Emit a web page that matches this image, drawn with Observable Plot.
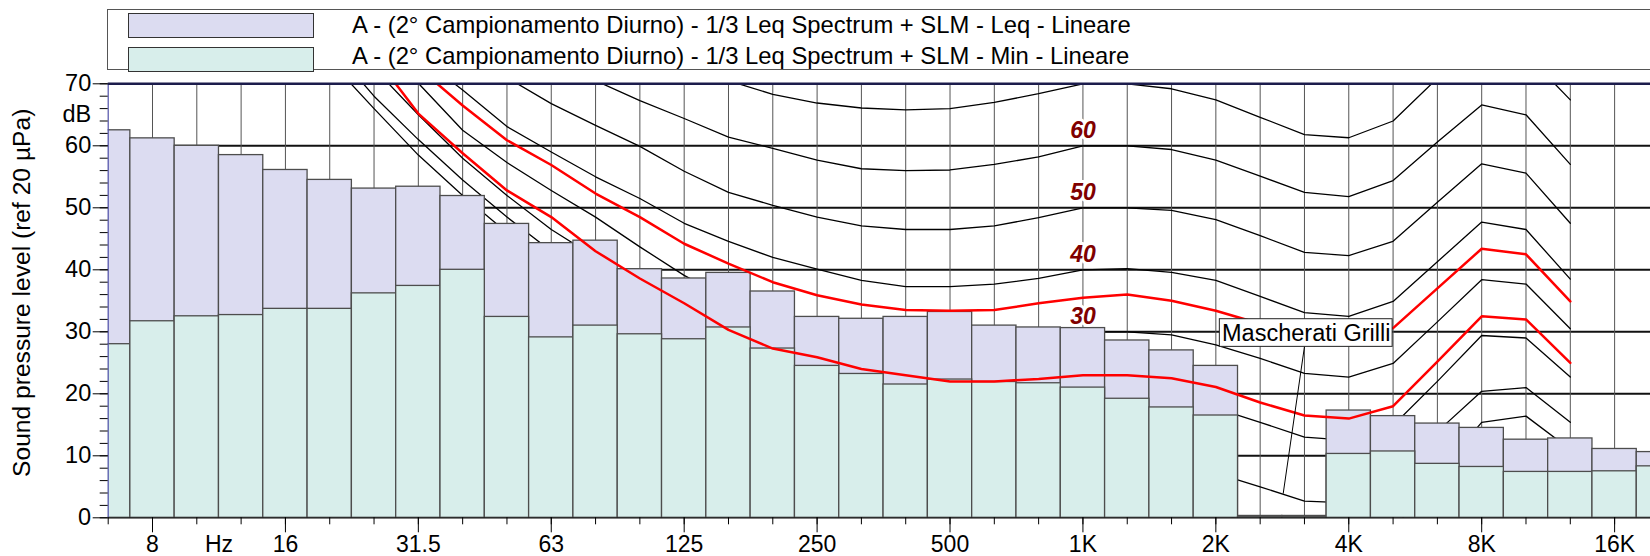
<!DOCTYPE html>
<html>
<head>
<meta charset="utf-8">
<script src="https://cdn.jsdelivr.net/npm/d3@7"></script>
<script src="https://cdn.jsdelivr.net/npm/@observablehq/plot@0.6"></script>
<style>
  body { margin: 0; background: #fff; }
  #wrap { position: relative; width: 1650px; height: 556px; overflow: hidden; font-family: Arial, "Liberation Sans", sans-serif; }
  #legend { position: absolute; left: 107px; top: 9px; width: 1600px; height: 61px; border: 1px solid #555; box-sizing: border-box; background: #fff; }
  .sw { position: absolute; left: 20px; width: 186px; height: 25px; border: 1px solid #333; box-sizing: border-box; }
  .lt { position: absolute; left: 244px; font-size: 23.8px; line-height: 1; color: #000; white-space: nowrap; }
</style>
</head>
<body>
<div id="wrap">
  <div id="chart"></div>
  <div id="legend">
    <div class="sw" id="sw1" style="top:3px"></div>
    <div class="lt" id="lt1" style="top:3px"></div>
    <div class="sw" id="sw2" style="top:37px"></div>
    <div class="lt" id="lt2" style="top:34px"></div>
  </div>
</div>
<script>
// ---- data ----
const bandLabels = ["6.3","8","10","12.5","16","20","25","31.5","40","50","63","80","100","125","160","200","250","315","400","500","630","800","1K","1.25K","1.6K","2K","2.5K","3.15K","4K","5K","6.3K","8K","10K","12.5K","16K","20K"];
const leqValues = [62.5,61.2,60.0,58.5,56.1,54.5,53.1,53.4,51.9,47.4,44.3,44.7,40.1,38.6,39.5,36.5,32.4,32.1,32.4,33.2,31.0,30.7,30.6,28.6,27.0,24.5,0.3,0.3,17.3,16.4,15.2,14.5,12.6,12.8,11.1,10.6];
const minValues = [28.0,31.7,32.5,32.7,33.7,33.7,36.2,37.4,40.0,32.4,29.1,31.0,29.6,28.8,30.7,27.3,24.5,23.2,21.5,22.3,21.9,21.7,21.0,19.2,17.8,16.5,0.1,0.1,10.3,10.7,8.7,8.2,7.4,7.4,7.5,8.3];
const seriesNames = [
  "A - (2° Campionamento Diurno) - 1/3 Leq Spectrum + SLM - Leq - Lineare",
  "A - (2° Campionamento Diurno) - 1/3 Leq Spectrum + SLM - Min - Lineare"
];
const tickBands = ["8","16","31.5","63","125","250","500","1K","2K","4K","8K","16K"];
const unitLabel = "Hz";
const yTitle = "Sound pressure level (ref 20 µPa)";

// contour curves, values at bands 20 Hz (index 4) ... 12.5 kHz (index 32)
const contourStart = 4;
const c70 = [null,null,null,null,null,null,null,null,null,70.5,68.3,66.9,66.1,65.8,66.0,67.0,68.4,70.0,70.0,69.2,67.4,64.6,61.8,61.3,64.0,70.9,76.4,74.8,67.4];
const c60 = [null,null,null,null,null,null,70.5,67.3,64.4,61.4,59.6,57.7,56.3,56.0,56.1,57.0,58.2,60.0,60.0,59.4,57.7,55.1,52.5,51.8,54.4,60.6,66.6,65.0,57.0];
const c50 = [null,null,null,null,71.0,66.8,63.3,59.9,55.9,52.5,50.4,48.5,47.1,46.5,46.5,47.1,48.4,50.0,50.0,49.6,48.1,45.5,42.8,42.3,44.6,50.9,57.1,55.6,47.5];
const c40 = [null,null,74.5,69.0,63.1,59.0,55.0,51.5,47.5,44.6,42.0,40.1,38.3,37.3,37.3,37.7,38.6,40.0,40.2,39.6,38.3,35.7,33.1,32.5,34.9,41.3,47.7,46.5,38.5];
const c30 = [null,77.0,70.1,62.5,57.3,52.8,48.5,43.7,39.1,35.2,32.7,30.6,28.7,27.6,27.4,27.8,28.7,30.0,30.0,29.5,27.9,25.7,23.3,22.7,24.9,31.6,38.4,37.7,30.5];
const c20 = [null,72.5,65.0,58.0,52.0,46.5,42.0,37.5,33.5,29.8,26.5,23.8,21.7,20.3,19.7,19.5,19.6,20.0,20.0,19.5,17.7,15.4,13.0,12.5,14.9,22.0,29.4,29.0,22.7];
const c10 = [76.3,68.0,61.0,54.5,48.5,43.0,38.0,33.0,28.5,24.5,20.8,17.5,14.8,12.6,11.0,10.0,9.6,10.0,10.0,9.5,7.2,5.0,2.7,2.4,5.0,13.9,20.4,21.0,15.4];
const cThreshold = [73.7,66.0,58.5,52.0,46.0,40.5,35.5,30.5,26.0,22.0,18.5,15.5,12.5,10.0,8.0,6.5,5.5,4.5,4.0,3.0,1.0,-1.5,-4.0,-4.5,-2.0,7.0,15.4,16.4,11.0];
const redLeq = [null,null,72.6,66.5,60.9,56.9,52.3,48.5,44.2,41.0,38.0,35.9,34.4,33.5,33.4,33.5,34.6,35.5,36.0,35.0,33.4,31.3,29.0,28.5,30.6,37.0,43.4,42.5,34.9];
const redMin = [null,74.6,65.2,58.8,52.8,48.5,43.0,38.6,34.6,30.3,27.3,25.9,24.0,23.0,22.0,22.0,22.4,23.0,23.0,22.5,21.1,18.6,16.5,16.0,18.0,25.2,32.5,32.0,25.0];
const contourLabels = [60, 50, 40, 30];
const contourLabelBand = "1K";
const noteText = "Mascherati Grilli";
const noteBandPos = 26.04;   // band-index position of the note
const noteDb = 29.8;
const notePointerBand = 25.52;
const notePointerDb = 3.9;

// ---- derived tables ----
const kOf = lab => bandLabels.indexOf(lab) - 1; // band index, 8 Hz = 0
const bars = bandLabels.map((b, i) => ({k: i - 1, leq: leqValues[i], min: minValues[i]}));
const pts = arr => arr.map((v, i) => ({k: i + contourStart, v})).filter(d => d.v != null);
const blackCurves = [c70, c60, c50, c40, c30, c20, c10, cThreshold];
const redCurves = [redLeq, redMin];
const tickPos = tickBands.map(kOf);
const tickText = new Map(tickBands.map(b => [kOf(b), b]));
const allBandK = bars.map(d => d.k).filter(k => k >= -1 && k <= 33);
const labelK = kOf(contourLabelBand);

const FONT = "Arial, 'Liberation Sans', sans-serif";
const leqFill = "#dcdcf1";
const minFill = "#d8eeeb";
const barStroke = "#4d4d4d";

document.getElementById("sw1").style.background = leqFill;
document.getElementById("sw2").style.background = minFill;
document.getElementById("lt1").textContent = seriesNames[0];
document.getElementById("lt2").textContent = seriesNames[1];

const marks = [
  Plot.ruleY([10, 20, 30, 40, 50, 60], {stroke: "#111", strokeWidth: 2}),
  Plot.ruleX(allBandK.filter(k => k >= 0), {y1: 0, y2: 70, stroke: "#555", strokeWidth: 1}),
  ...blackCurves.map(c => Plot.line(pts(c), {x: "k", y: "v", stroke: "#000", strokeWidth: 1.3, clip: true})),
  Plot.rect(bars, {x1: d => d.k - 0.5, x2: d => d.k + 0.5, y1: 0, y2: "leq", fill: leqFill, stroke: barStroke, strokeWidth: 1.3, clip: true}),
  Plot.rect(bars, {x1: d => d.k - 0.5, x2: d => d.k + 0.5, y1: 0, y2: "min", fill: minFill, stroke: barStroke, strokeWidth: 1.3, clip: true}),
  ...redCurves.map(c => Plot.line(pts(c), {x: "k", y: "v", stroke: "#ff0000", strokeWidth: 2.5, clip: true})),
  Plot.ruleX([-1], {y1: 0, y2: 70, stroke: "#5050a8", strokeWidth: 1.2}),
  Plot.ruleY([0], {stroke: "#000", strokeWidth: 1.2}),
  Plot.ruleY([70], {stroke: "#1c1c4c", strokeWidth: 2.6}),
  Plot.text(contourLabels, {x: () => labelK, y: d => d + 2.5, text: d => String(d), fill: "#800000", fontWeight: "bold", fontStyle: "italic", fontSize: 23, stroke: "#fff", strokeWidth: 6}),
  Plot.link([{}], {x1: () => Math.round(noteBandPos), y1: () => noteDb - 2.2, x2: () => notePointerBand, y2: () => notePointerDb, stroke: "#000", strokeWidth: 1}),
  Plot.rect([{}], {x1: () => noteBandPos - 1.95, x2: () => noteBandPos + 1.95, y1: () => noteDb - 2.23, y2: () => noteDb + 2.23, fill: "#fff", stroke: "#222", strokeWidth: 1}),
  Plot.text([noteText], {x: () => noteBandPos, y: () => noteDb, text: d => d, fontSize: 23.5, fill: "#000"}),
  Plot.axisY({ticks: d3.range(0, 71, 2), tickSize: 8, tickFormat: () => "", label: null}),
  Plot.axisY({ticks: d3.range(0, 71, 10), tickSize: 15, tickPadding: 2, fontSize: 23.5, label: null}),
  Plot.text(["dB"], {frameAnchor: "left", y: () => 65, text: d => d, textAnchor: "end", dx: -17, fontSize: 23.5}),
  Plot.axisX({ticks: allBandK, tickSize: 7, tickFormat: () => "", label: null}),
  Plot.axisX({ticks: tickPos, tickSize: 15, tickPadding: 2.5, fontSize: 23, tickFormat: k => tickText.get(k), label: null}),
  Plot.text([unitLabel], {x: () => (kOf("8") + kOf("16")) / 2, frameAnchor: "bottom", text: d => d, lineAnchor: "top", dy: 17.5, fontSize: 23}),
  Plot.text([yTitle], {frameAnchor: "left", text: d => d, textAnchor: "middle", rotate: -90, dx: -86, dy: -8, fontSize: 24.6})
];

const chart = Plot.plot({
  width: 1650,
  height: 556,
  marginLeft: 107.7,
  marginRight: 0,
  marginTop: 83.3,
  marginBottom: 38.7,
  style: {fontFamily: FONT, fontSize: "23.5px", color: "#000", background: "#fff", overflow: "visible"},
  x: {domain: [-1, 33.81]},
  y: {domain: [0, 70]},
  marks
});
document.getElementById("chart").appendChild(chart);
</script>
</body>
</html>
